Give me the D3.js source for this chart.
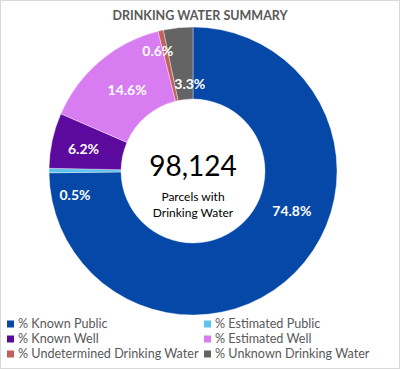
<!DOCTYPE html>
<html>
<head>
<meta charset="utf-8">
<script src="https://cdn.jsdelivr.net/npm/d3@7"></script>
<style>
  body { margin: 0; background: #fff; }
  svg { font-family: Lato, "Open Sans", sans-serif; }
</style>
</head>
<body>
<svg id="chart" width="400" height="369"></svg>
<script>
// data
var categories = ["% Known Public", "% Estimated Public", "% Known Well",
                  "% Estimated Well", "% Undetermined Drinking Water", "% Unknown Drinking Water"];
var values = [74.8, 0.5, 6.2, 14.6, 0.6, 3.3];
var colors = ["#0548a8", "#5ec3ea", "#5c0a9e", "#d87df1", "#c2605c", "#646464"];
var totalParcels = "98,124";

// label nudges from the ring centroid (Excel moved some of them)
var labelNudge = [[22, -36], [-10, 24], [-4, 1], [4, 1], [-11, -15], [8, 21]];

var svg = d3.select("#chart");
var cx = 193, cy = 171, outerR = 144, innerR = 72;

// outer frame
svg.append("rect")
  .attr("x", 0.5).attr("y", 0.5)
  .attr("width", 399).attr("height", 368)
  .attr("fill", "#fff").attr("stroke", "#d9d9d9");

// title
svg.append("text")
  .attr("x", 200).attr("y", 20)
  .attr("text-anchor", "middle")
  .attr("font-size", 12.5).attr("font-weight", "bold")
  .attr("fill", "#595959")
  .text("DRINKING WATER SUMMARY");

var pie = d3.pie().sort(null).value(function(d) { return d; });
var arc = d3.arc().innerRadius(innerR).outerRadius(outerR);
var arcs = pie(values);

var g = svg.append("g").attr("transform", "translate(" + cx + "," + cy + ")");

g.selectAll("path")
  .data(arcs)
  .enter().append("path")
  .attr("d", arc)
  .attr("fill", function(d, i) { return colors[i]; })
  .attr("stroke", "rgba(255,255,255,0.45)")
  .attr("stroke-width", 0.8);

g.selectAll(".lbl")
  .data(arcs)
  .enter().append("text")
  .attr("class", "lbl")
  .attr("transform", function(d, i) {
    var c = arc.centroid(d);
    return "translate(" + (c[0] + labelNudge[i][0]) + "," + (c[1] + labelNudge[i][1]) + ")";
  })
  .attr("text-anchor", "middle")
  .attr("dy", "0.35em")
  .attr("font-size", 14).attr("font-weight", "bold")
  .attr("fill", "#fff")
  .text(function(d) { return d.data.toFixed(1) + "%"; });

// centre text
g.append("text")
  .attr("y", 5).attr("text-anchor", "middle")
  .attr("font-size", 28).attr("fill", "#000")
  .text(totalParcels);
g.append("text")
  .attr("y", 30).attr("text-anchor", "middle")
  .attr("font-size", 12).attr("fill", "#000")
  .text("Parcels with");
g.append("text")
  .attr("y", 46).attr("text-anchor", "middle")
  .attr("font-size", 12).attr("fill", "#000")
  .text("Drinking Water");

// legend, two columns
var legend = svg.append("g").selectAll("g")
  .data(categories)
  .enter().append("g")
  .attr("transform", function(d, i) {
    var col = i % 2, row = Math.floor(i / 2);
    return "translate(" + (col ? 204 : 7) + "," + (324 + row * 15) + ")";
  });

legend.append("rect")
  .attr("x", 0).attr("y", -3.5)
  .attr("width", 7).attr("height", 7)
  .attr("fill", function(d, i) { return colors[i]; });

legend.append("text")
  .attr("x", 11).attr("dy", "0.35em")
  .attr("font-size", 12.6).attr("fill", "#595959")
  .text(function(d) { return d; });
</script>
</body>
</html>
